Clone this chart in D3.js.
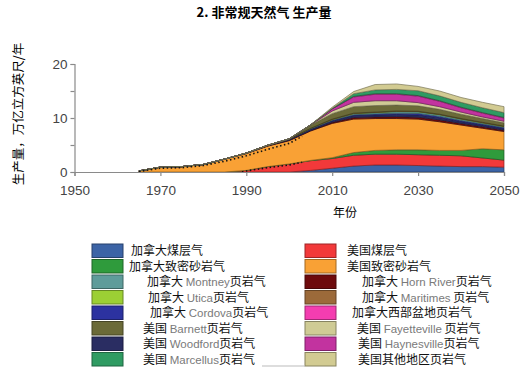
<!DOCTYPE html>
<html>
<head>
<meta charset="utf-8">
<script src="https://d3js.org/d3.v7.min.js"></script>
<style>
  body { margin: 0; background: #fff; }
  svg { display: block; }
</style>
</head>
<body>
<div id="chart"></div>
<script>
// years
const years = [1965, 1970, 1975, 1980, 1985, 1990, 1995, 2000, 2005, 2010, 2015, 2020, 2025, 2030, 2035, 2040, 2045, 2050];

// series values (trillion cubic feet per year), stack order bottom -> top
const caCbm        = [0, 0, 0, 0, 0, 0, 0, 0, 0.3, 0.7, 1.1, 1.3, 1.3, 1.2, 1.1, 1.0, 1.0, 0.9];
const usCbm        = [0, 0, 0, 0, 0, 0.3, 1.0, 1.5, 1.8, 1.8, 2.0, 2.0, 2.0, 2.0, 2.0, 2.0, 1.6, 1.3];
const caTight      = [0, 0, 0, 0, 0, 0, 0, 0, 0.05, 0.15, 0.5, 0.7, 0.8, 0.9, 0.9, 1.0, 1.7, 1.9];
const usTight      = [0.2, 0.9, 1.0, 1.4, 2.4, 3.1, 3.8, 4.3, 5.45, 6.35, 6.2, 5.9, 5.8, 5.7, 5.3, 4.7, 3.8, 3.4];
const hornRiver    = [0, 0, 0, 0, 0, 0.05, 0.05, 0.1, 0.1, 0.2, 0.3, 0.3, 0.35, 0.35, 0.35, 0.3, 0.3, 0.25];
const woodford     = [0, 0, 0, 0, 0, 0.05, 0.1, 0.2, 0.25, 0.3, 0.35, 0.35, 0.4, 0.4, 0.4, 0.35, 0.3, 0.3];
const cordova      = [0, 0, 0, 0, 0, 0, 0, 0, 0.05, 0.1, 0.15, 0.2, 0.25, 0.3, 0.25, 0.2, 0.2, 0.2];
const montney      = [0, 0, 0, 0, 0, 0, 0, 0, 0.1, 0.1, 0.2, 0.25, 0.3, 0.3, 0.3, 0.25, 0.2, 0.15];
const utica        = [0, 0, 0, 0, 0, 0, 0, 0, 0, 0.05, 0.05, 0.05, 0.05, 0.05, 0.05, 0.05, 0.05, 0.05];
const maritimes    = [0, 0, 0, 0, 0, 0, 0, 0, 0, 0.05, 0.05, 0.05, 0.05, 0.05, 0.05, 0.05, 0.05, 0.05];
const barnett      = [0, 0, 0, 0, 0, 0, 0, 0.05, 0.6, 1.0, 1.2, 1.2, 1.1, 1.0, 0.9, 0.8, 0.7, 0.6];
const fayetteville = [0, 0, 0, 0, 0, 0, 0, 0, 0.05, 0.5, 0.8, 0.9, 0.8, 0.6, 0.5, 0.4, 0.3, 0.3];
const haynesville  = [0, 0, 0, 0, 0, 0, 0, 0, 0, 0.4, 1.0, 1.2, 1.2, 1.2, 1.0, 0.8, 0.7, 0.6];
const wcsb         = [0, 0, 0, 0, 0, 0, 0, 0, 0, 0, 0.1, 0.1, 0.1, 0.1, 0.1, 0.1, 0.1, 0.1];
const marcellus    = [0, 0, 0, 0, 0, 0, 0, 0, 0, 0.1, 0.5, 0.7, 0.8, 0.9, 0.9, 0.9, 0.9, 0.9];
const usOther      = [0, 0, 0, 0, 0, 0, 0, 0, 0, 0.2, 0.4, 1.0, 1.0, 0.8, 0.9, 0.9, 1.0, 1.1];

// historical dotted lines
const histYears = [1965, 1970, 1975, 1980, 1985, 1990, 1995, 2000, 2003];
const histTotal = [0.1, 0.7, 0.8, 1.2, 2.0, 3.0, 4.2, 5.3, 6.6];
const cbmHistYears = [1989, 1990, 1995, 2000, 2003];
const cbmHist = [0, 0.2, 0.8, 1.3, 1.8];

const xTicks = [1950, 1970, 1990, 2010, 2030, 2050];
const yTicks = [0, 10, 20];

// legend, left column then right column
const legendLeft = ["加拿大煤层气", "加拿大致密砂岩气", "加拿大  Montney页岩气", "加拿大  Utica页岩气",
  "加拿大  Cordova页岩气", "美国 Barnett页岩气", "美国 Woodford页岩气", "美国 Marcellus页岩气"];
const legendRight = ["美国煤层气", "美国致密砂岩气", "加拿大  Horn River页岩气", "加拿大  Maritimes 页岩气",
  "加拿大西部盆地页岩气", "美国 Fayetteville 页岩气", "美国 Haynesville页岩气", "美国其他地区页岩气"];

const series = [
  { key: "caCbm", values: caCbm, color: "#3c64a6", legend: legendLeft[0] },
  { key: "usCbm", values: usCbm, color: "#f2393a", legend: legendRight[0] },
  { key: "caTight", values: caTight, color: "#2f9b3c", legend: legendLeft[1] },
  { key: "usTight", values: usTight, color: "#f9a135", legend: legendRight[1] },
  { key: "hornRiver", values: hornRiver, color: "#6e0a0c", legend: legendRight[2] },
  { key: "woodford", values: woodford, color: "#2a2d62", legend: legendLeft[6] },
  { key: "cordova", values: cordova, color: "#2c32a0", legend: legendLeft[4] },
  { key: "montney", values: montney, color: "#5f9c9a", legend: legendLeft[2] },
  { key: "utica", values: utica, color: "#9ccf34", legend: legendLeft[3] },
  { key: "maritimes", values: maritimes, color: "#9c6a3a", legend: legendRight[3] },
  { key: "barnett", values: barnett, color: "#6b6a38", legend: legendLeft[5] },
  { key: "fayetteville", values: fayetteville, color: "#cfcb95", legend: legendRight[5] },
  { key: "haynesville", values: haynesville, color: "#c2339f", legend: legendRight[6] },
  { key: "wcsb", values: wcsb, color: "#f43db0", legend: legendRight[4] },
  { key: "marcellus", values: marcellus, color: "#2f9b62", legend: legendLeft[7] },
  { key: "usOther", values: usOther, color: "#d2cb92", legend: legendRight[7] }
];

const table = years.map((yr, i) => {
  const row = { year: yr };
  series.forEach(s => { row[s.key] = s.values[i]; });
  return row;
});

const W = 529, H = 376;
const svg = d3.select("#chart").append("svg").attr("width", W).attr("height", H);

const x = d3.scaleLinear().domain([1950, 2050]).range([74.5, 504]);
const y = d3.scaleLinear().domain([0, 20]).range([172, 64]);

const cjk = "'Noto Sans CJK SC', sans-serif";
const latin = "'Liberation Sans', Arial, sans-serif";

// title
svg.append("text")
  .attr("x", 264).attr("y", 17)
  .attr("text-anchor", "middle")
  .style("font-family", cjk).style("font-size", "13px").style("font-weight", "bold")
  .text("2. 非常规天然气 生产量");

// stacked areas
const stack = d3.stack().keys(series.map(s => s.key));
const layers = stack(table);
const area = d3.area()
  .x(d => x(d.data.year))
  .y0(d => y(d[0]))
  .y1(d => y(d[1]));

svg.append("g").selectAll("path")
  .data(layers)
  .join("path")
  .attr("fill", (d, i) => series[i].color)
  .attr("stroke", (d, i) => d3.color(series[i].color).darker(1.6))
  .attr("stroke-width", 0.7)
  .attr("d", area);

// dotted history lines
const dotLine = d3.line().x(d => x(d[0])).y(d => y(d[1]));
svg.append("path")
  .datum(histYears.map((yr, i) => [yr, histTotal[i]]))
  .attr("fill", "none").attr("stroke", "#111")
  .attr("stroke-width", 1.6).attr("stroke-dasharray", "1.5,2.5")
  .attr("d", dotLine);
svg.append("path")
  .datum(cbmHistYears.map((yr, i) => [yr, cbmHist[i]]))
  .attr("fill", "none").attr("stroke", "#111")
  .attr("stroke-width", 1.6).attr("stroke-dasharray", "1.5,2.5")
  .attr("d", dotLine);

// axes
const xAxis = svg.append("g")
  .attr("transform", "translate(0,172)")
  .call(d3.axisBottom(x).tickValues(xTicks).tickFormat(d3.format("d")).tickSize(4).tickPadding(9));
const yAxis = svg.append("g")
  .attr("transform", "translate(74.5,0)")
  .call(d3.axisLeft(y).tickValues([0, 5, 10, 15, 20]).tickFormat(d => yTicks.includes(d) ? d : "").tickSize(4).tickPadding(3));

[xAxis, yAxis].forEach(g => {
  g.select(".domain").attr("stroke", "#8a8a8a").attr("stroke-width", 1.2);
  g.selectAll(".tick line").attr("stroke", "#8a8a8a").attr("stroke-width", 1.2);
  g.selectAll(".tick text").attr("fill", "#444").style("font-family", latin).style("font-size", "13.5px");
});

// axis titles
svg.append("text")
  .attr("transform", "translate(23,114) rotate(-90)")
  .attr("text-anchor", "middle")
  .style("font-family", cjk).style("font-size", "12.5px")
  .text("生产量，万亿立方英尺/年");
svg.append("text")
  .attr("x", 345).attr("y", 217)
  .attr("text-anchor", "middle")
  .style("font-family", cjk).style("font-size", "12px")
  .text("年份");

// legend
const rowY = d3.scaleLinear().domain([0, 7]).range([244, 352.5]);
const legendCols = [
  { labels: legendLeft, sx: 92, tx: [131, 129, 147, 148, 150, 143, 143, 143] },
  { labels: legendRight, sx: 305, tx: [347, 347, 362, 362, 352, 357, 358, 358] }
];
const leg = svg.append("g");
legendCols.forEach(col => {
  col.labels.forEach((lab, i) => {
    const s = series.find(d => d.legend === lab);
    leg.append("rect")
      .attr("x", col.sx).attr("y", rowY(i))
      .attr("width", 31).attr("height", 13.5)
      .attr("fill", s.color)
      .attr("stroke", d3.color(s.color).darker(1.2)).attr("stroke-width", 1);
    const t = leg.append("text")
      .attr("x", col.tx[i]).attr("y", rowY(i) + 11)
      .style("font-family", cjk).style("font-size", "12px");
    lab.split(/([A-Za-z][A-Za-z ]*[A-Za-z])/).filter(p => p.length).forEach(p => {
      const isLatin = /[A-Za-z]/.test(p);
      t.append("tspan")
        .attr("fill", isLatin ? "#7a7a7a" : "#111")
        .style("font-family", isLatin ? "'Liberation Sans Narrow', 'Liberation Sans', sans-serif" : cjk)
        .style("font-size", isLatin ? "11.5px" : "12px")
        .text(p);
    });
  });
});
leg.append("line")
  .attr("x1", 262).attr("x2", 305).attr("y1", 366).attr("y2", 366)
  .attr("stroke", "#bbb").attr("stroke-width", 1);
</script>
</body>
</html>
